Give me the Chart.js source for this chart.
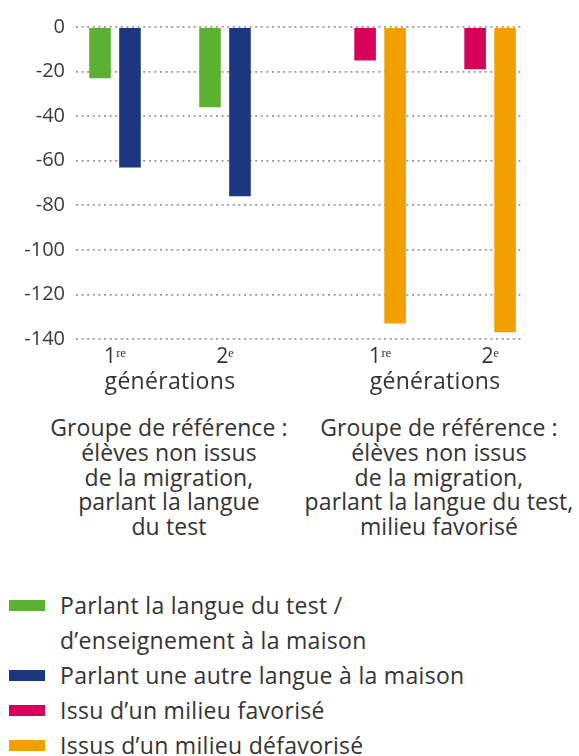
<!DOCTYPE html>
<html>
<head>
<meta charset="utf-8">
<script src="https://cdn.jsdelivr.net/npm/chart.js@4"></script>
<style>
  html, body { margin: 0; padding: 0; background: #fff; }
  body { width: 579px; height: 756px; position: relative; overflow: hidden; font-family: "Open Sans", sans-serif; color: #333; }
  #wrap { position: absolute; left: 0; top: 0; width: 579px; height: 400px; }
  .note { position: absolute; text-align: center; font-size: 23px; letter-spacing: 0.1px; line-height: 24.75px; white-space: nowrap; transform: translateX(-50%); }
  #legend { position: absolute; left: 0; top: 588px; font-size: 23px; letter-spacing: 0.3px; line-height: 35px; }
  .item { position: relative; padding-left: 60px; white-space: pre-line; }
  .sw { position: absolute; left: 9px; top: 12px; width: 36px; height: 11px; }
</style>
</head>
<body>
<div id="wrap"><canvas id="c"></canvas></div>
<div class="note" id="n1" style="left:169px; top:415px;"></div>
<div class="note" id="n2" style="left:439px; top:415px;"></div>
<div id="legend"></div>
<script>
// ---- data ----
const categories = ['1ʳᵉ', '2ᵉ', '1ʳᵉ', '2ᵉ'];
const groupLabels = ['générations', 'générations'];
const seriesNames = [
  'Parlant la langue du test /\nd’enseignement à la maison',
  'Parlant une autre langue à la maison',
  'Issu d’un milieu favorisé',
  'Issus d’un milieu défavorisé'
];
const langueTest   = [-23, -36, null, null];
const autreLangue  = [-63, -76, null, null];
const favorise     = [null, null, -15, -19];
const defavorise   = [null, null, -133, -137];
const yTicks = [0, -20, -40, -60, -80, -100, -120, -140];
const notes = [
  ['Groupe de référence :', 'élèves non issus', 'de la migration,', 'parlant la langue', 'du test'],
  ['Groupe de référence :', 'élèves non issus', 'de la migration,', 'parlant la langue du test,', 'milieu favorisé']
];

// ---- layout helpers ----
const colors = ['#5cb132', '#1c3682', '#d6005a', '#f49f00'];
const GROUP_GAP = 0.41;
const xpos = i => i + (i >= 2 ? GROUP_GAP : 0);
const toPts = arr => arr.map((v, i) => ({ x: xpos(i), y: v }));
const seriesData = [langueTest, autreLangue, favorise, defavorise];

const groupPlugin = {
  id: 'groupText',
  afterDraw(chart) {
    const xs = chart.scales.x;
    const ctx = chart.ctx;
    ctx.save();
    ctx.font = '23px "Open Sans"';
    if ('letterSpacing' in ctx) ctx.letterSpacing = '0.3px';
    ctx.fillStyle = '#333';
    ctx.textAlign = 'center';
    ctx.textBaseline = 'middle';
    groupLabels.forEach((lab, g) => {
      const a = xs.getPixelForValue(xpos(g * 2));
      const b = xs.getPixelForValue(xpos(g * 2 + 1));
      ctx.fillText(lab, (a + b) / 2, 382);
    });
    ctx.restore();
  }
};

const chart = new Chart(document.getElementById('c'), {
  type: 'bar',
  data: {
    datasets: seriesData.map((d, k) => ({
      label: seriesNames[k],
      data: toPts(d),
      backgroundColor: colors[k],
      borderWidth: 0,
      skipNull: true,
      categoryPercentage: 0.545,
      barPercentage: 0.72
    }))
  },
  options: {
    responsive: true,
    maintainAspectRatio: false,
    animation: false,
    layout: { padding: { top: 27, right: 57, bottom: 0, left: 0 } },
    plugins: { legend: { display: false }, tooltip: { enabled: false } },
    scales: {
      x: {
        type: 'linear',
        offset: false,
        min: -0.3545,
        max: 3.7,
        grid: { display: false, drawTicks: false, offset: false },
        border: { display: false },
        afterBuildTicks: s => { s.ticks = categories.map((c, i) => ({ value: xpos(i) })); },
        afterFit: s => { s.height = 61; },
        ticks: {
          autoSkip: false,
          maxRotation: 0,
          padding: 5,
          color: '#333',
          font: { family: 'Open Sans', size: 21 },
          callback: (v, i) => categories[i]
        }
      },
      y: {
        min: -140,
        max: 0,
        afterBuildTicks: s => { s.ticks = yTicks.map(v => ({ value: v })); },
        afterFit: s => { s.width = 76; },
        grid: { color: '#9a9a9a', lineWidth: 1.8, drawTicks: false },
        border: { display: false, dash: [2, 3.6] },
        ticks: {
          padding: 11,
          color: '#3a3a3a',
          font: { family: 'Open Sans', size: 20 }
        }
      }
    }
  },
  plugins: [groupPlugin]
});

// notes
notes.forEach((lines, k) => {
  document.getElementById('n' + (k + 1)).innerHTML = lines.join('<br>');
});

// legend built from datasets
const leg = document.getElementById('legend');
chart.data.datasets.forEach(ds => {
  const it = document.createElement('div');
  it.className = 'item';
  const sw = document.createElement('span');
  sw.className = 'sw';
  sw.style.background = ds.backgroundColor;
  it.appendChild(sw);
  it.appendChild(document.createTextNode(ds.label));
  leg.appendChild(it);
});
</script>
</body>
</html>
